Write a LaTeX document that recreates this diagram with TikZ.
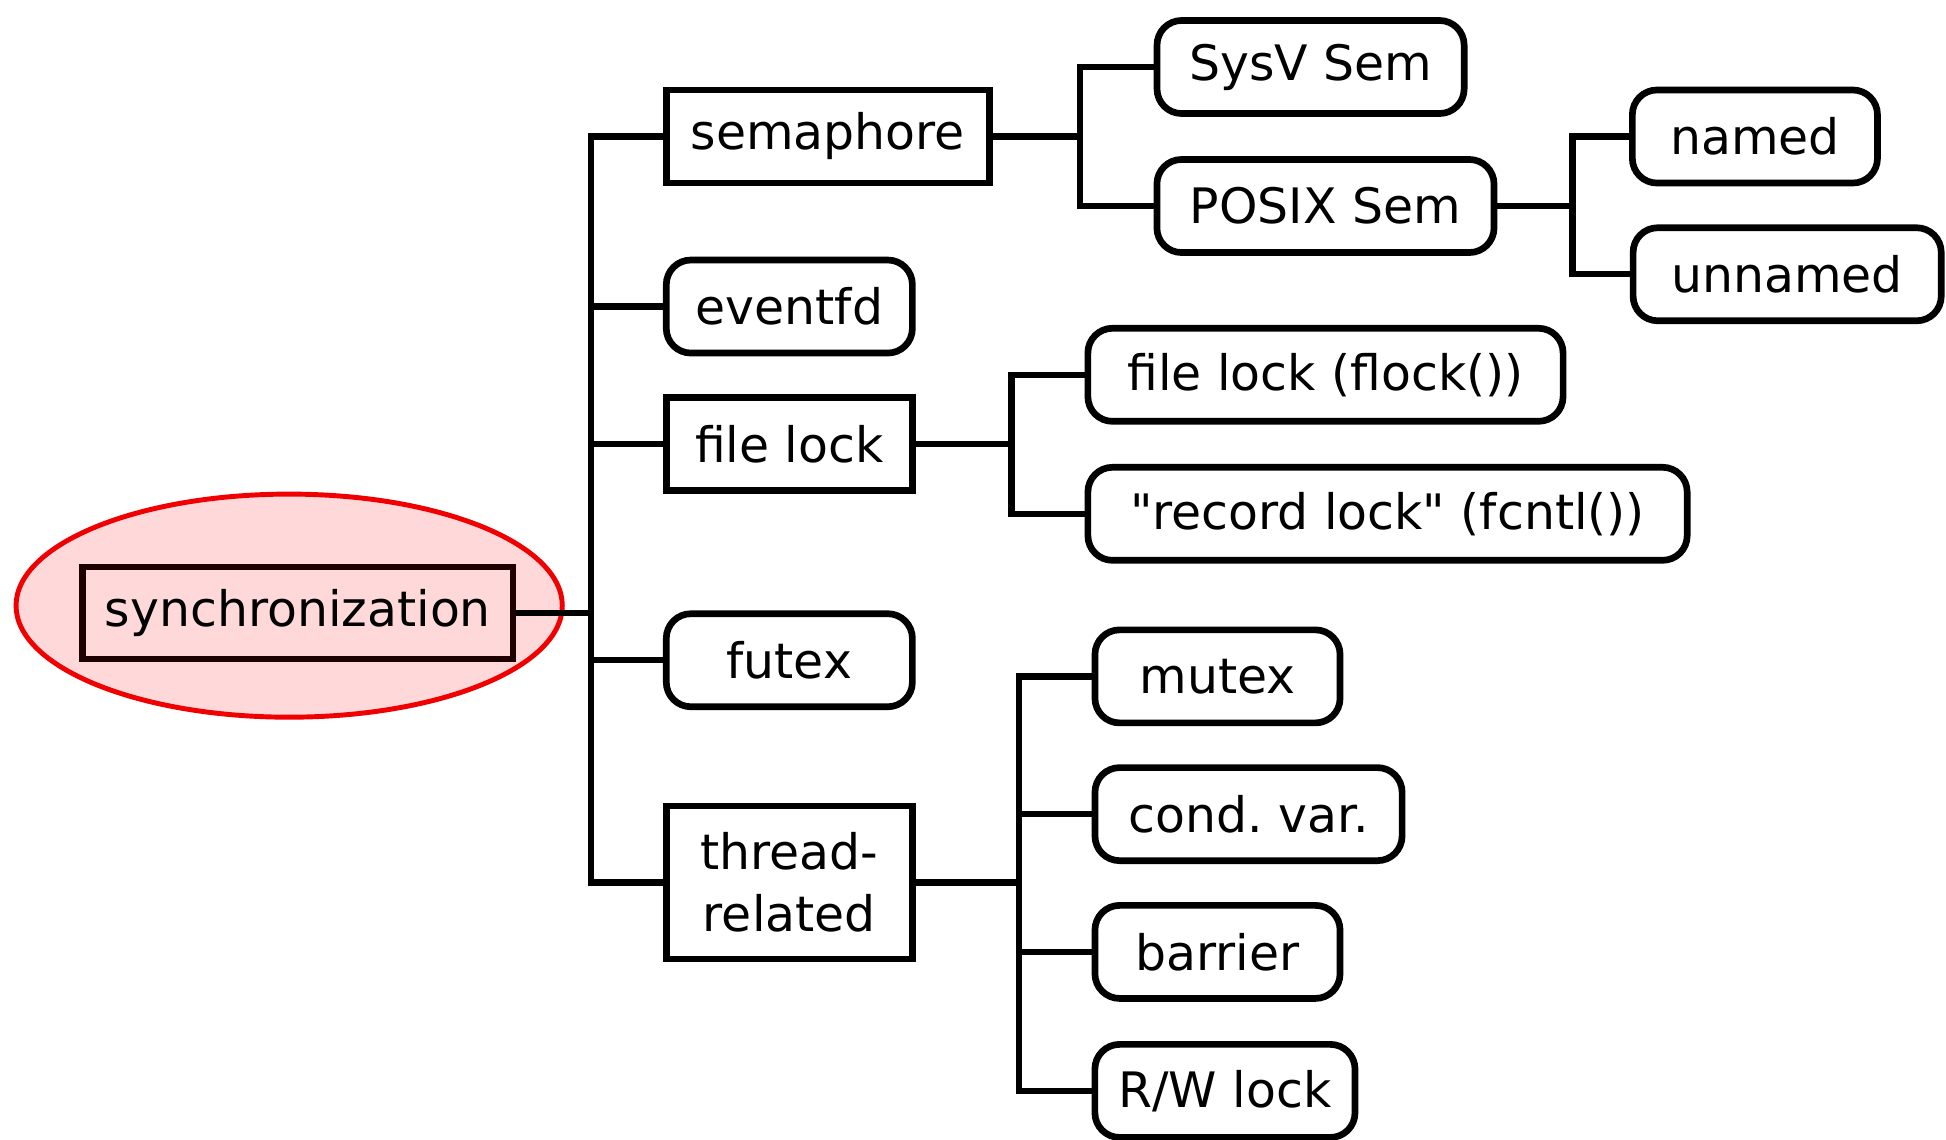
\documentclass[tikz,border=0pt]{standalone}
\usepackage{fontspec}
\setmainfont{DejaVu Sans}
\usetikzlibrary{shapes.geometric}
\definecolor{pinkfill}{RGB}{255,217,217}
\definecolor{ellred}{RGB}{240,0,0}
\frenchspacing
\begin{document}
\begin{tikzpicture}[x=0.01241cm,y=-0.01241cm,
  base/.style={draw=black,line width=1.9pt,inner sep=0pt,align=center,
    font=\fontsize{13.9}{17.6}\selectfont,minimum height=0.93cm},
  sqbox/.style={base},
  rbox/.style={base,rounded corners=7pt},
  conn/.style={line width=1.8pt,line join=miter}]
\useasboundingbox (0,0) rectangle (1568,918);
% highlight ellipse
\node[draw=ellred,fill=pinkfill,line width=1.4pt,ellipse,inner sep=0pt,
  minimum width=5.46cm,minimum height=2.23cm] (hl) at (233,488) {};
% nodes
\node[sqbox,draw=black!88!red,minimum width=4.3cm,minimum height=0.92cm] (sync) at (240,494) {synchronization};
\node[sqbox,minimum width=3.23cm] (sem) at (667,110) {semaphore};
\node[rbox,minimum width=2.46cm] (evt) at (636,247) {eventfd};
\node[sqbox,minimum width=2.46cm] (flk) at (636,358) {file lock};
\node[rbox,minimum width=2.46cm] (ftx) at (636,532) {futex};
\node[sqbox,minimum width=2.46cm,minimum height=1.53cm] (thr) at (636,711) {thread-\\related};
\node[rbox,minimum width=3.07cm] (sysv) at (1056,54) {SysV Sem};
\node[rbox,minimum width=3.37cm] (posix) at (1068,166) {POSIX Sem};
\node[rbox,minimum width=2.45cm] (named) at (1414,110) {named};
\node[rbox,minimum width=3.08cm] (unnamed) at (1440,221) {unnamed};
\node[rbox,minimum width=4.75cm] (flock) at (1068,302) {file lock (flock())};
\node[rbox,minimum width=5.99cm] (rec) at (1118,414) {\textquotedbl record lock\textquotedbl{} (fcntl())};
\node[rbox,minimum width=2.45cm] (mtx) at (981,545) {mutex};
\node[rbox,minimum width=3.07cm] (cond) at (1006,656) {cond. var.};
\node[rbox,minimum width=2.45cm] (bar) at (981,767) {barrier};
\node[rbox,minimum width=2.60cm] (rw) at (987,879) {R/W lock};
% forks
\coordinate (f0) at (476,494);
\coordinate (f1) at (870,110);
\coordinate (f2) at (1267,166);
\coordinate (f3) at (815,358);
\coordinate (f4) at (821,711);
% connectors
\draw[conn] (sync.east) -- (f0);
\foreach \c in {sem,evt,flk,ftx,thr} \draw[conn] (\c.west) -| (f0);
\draw[conn] (sem.east) -- (f1);
\foreach \c in {sysv,posix} \draw[conn] (\c.west) -| (f1);
\draw[conn] (posix.east) -- (f2);
\foreach \c in {named,unnamed} \draw[conn] (\c.west) -| (f2);
\draw[conn] (flk.east) -- (f3);
\foreach \c in {flock,rec} \draw[conn] (\c.west) -| (f3);
\draw[conn] (thr.east) -- (f4);
\foreach \c in {mtx,cond,bar,rw} \draw[conn] (\c.west) -| (f4);
\end{tikzpicture}
\end{document}
